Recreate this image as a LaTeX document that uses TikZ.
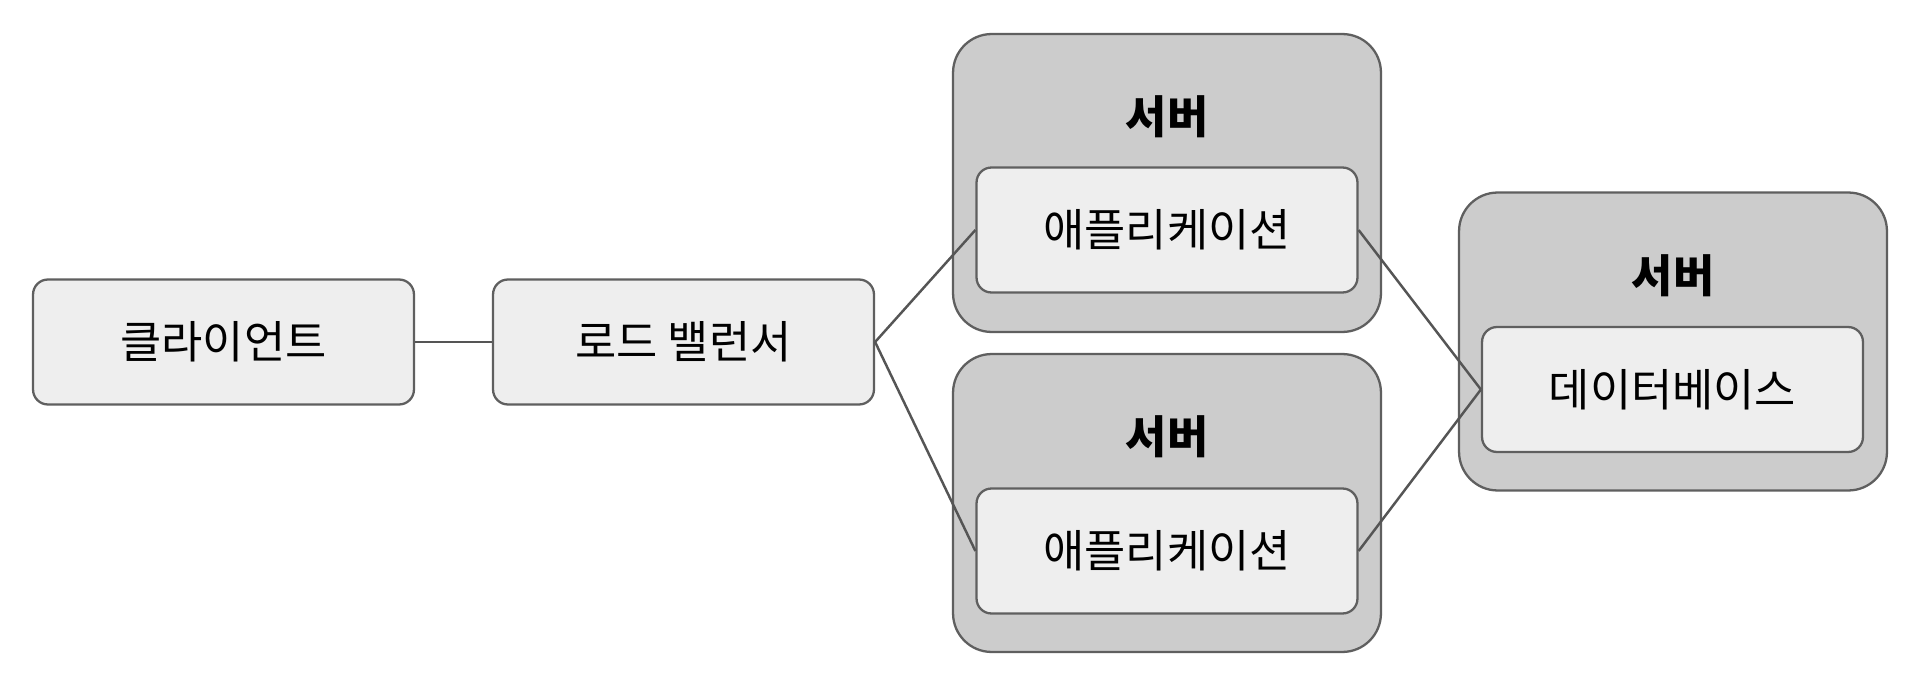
\documentclass[tikz,border=0pt]{standalone}
\usepackage{fontspec}
\setmainfont{Noto Sans CJK KR}
\usetikzlibrary{positioning}
\definecolor{boxFill}{HTML}{EEEEEE}
\definecolor{srvFill}{HTML}{CCCCCC}
\definecolor{edgeGray}{HTML}{5F5F5F}
\definecolor{linkGray}{HTML}{555555}

\begin{document}
\begin{tikzpicture}[x=0.02cm,y=-0.02cm,
    font=\fontsize{25.5}{30}\selectfont,
    unitbox/.style={draw=edgeGray,fill=boxFill,line width=1.3pt,rounded corners=8.5pt,
                    minimum width=7.62cm,minimum height=2.5cm,inner sep=0pt},
    srvbox/.style={draw=edgeGray,fill=srvFill,line width=1.3pt,rounded corners=22pt,
                   minimum width=8.56cm,minimum height=5.96cm,inner sep=0pt},
    srvtitle/.style={font=\fontsize{25.5}{30}\selectfont\bfseries},
    link/.style={draw=linkGray,line width=1.4pt}]
  \useasboundingbox[fill=white] (0,0) rectangle (1920,686);

  \node[srvbox] (srvA) at (1167,183) {};
  \node[srvbox] (srvB) at (1167,503) {};
  \node[srvbox] (srvC) at (1673,341.5) {};
  \node[srvtitle] (titleA) at (1167,117) {서버};
  \node[srvtitle] (titleB) at (1167,437) {서버};
  \node[srvtitle] (titleC) at (1673,276) {서버};

  \node[unitbox] (client) at (223.5,342) {클라이언트};
  \node[unitbox] (lb)     at (683.5,342) {로드 밸런서};
  \node[unitbox] (appA)   at (1167,230)  {애플리케이션};
  \node[unitbox] (appB)   at (1167,551)  {애플리케이션};
  \node[unitbox] (db)     at (1672.5,389.5) {데이터베이스};

  \draw[link] (client.east) -- (lb.west);
  \draw[link] (lb.east) -- (appA.west);
  \draw[link] (lb.east) -- (appB.west);
  \draw[link] (appA.east) -- (db.west);
  \draw[link] (appB.east) -- (db.west);
\end{tikzpicture}
\end{document}
